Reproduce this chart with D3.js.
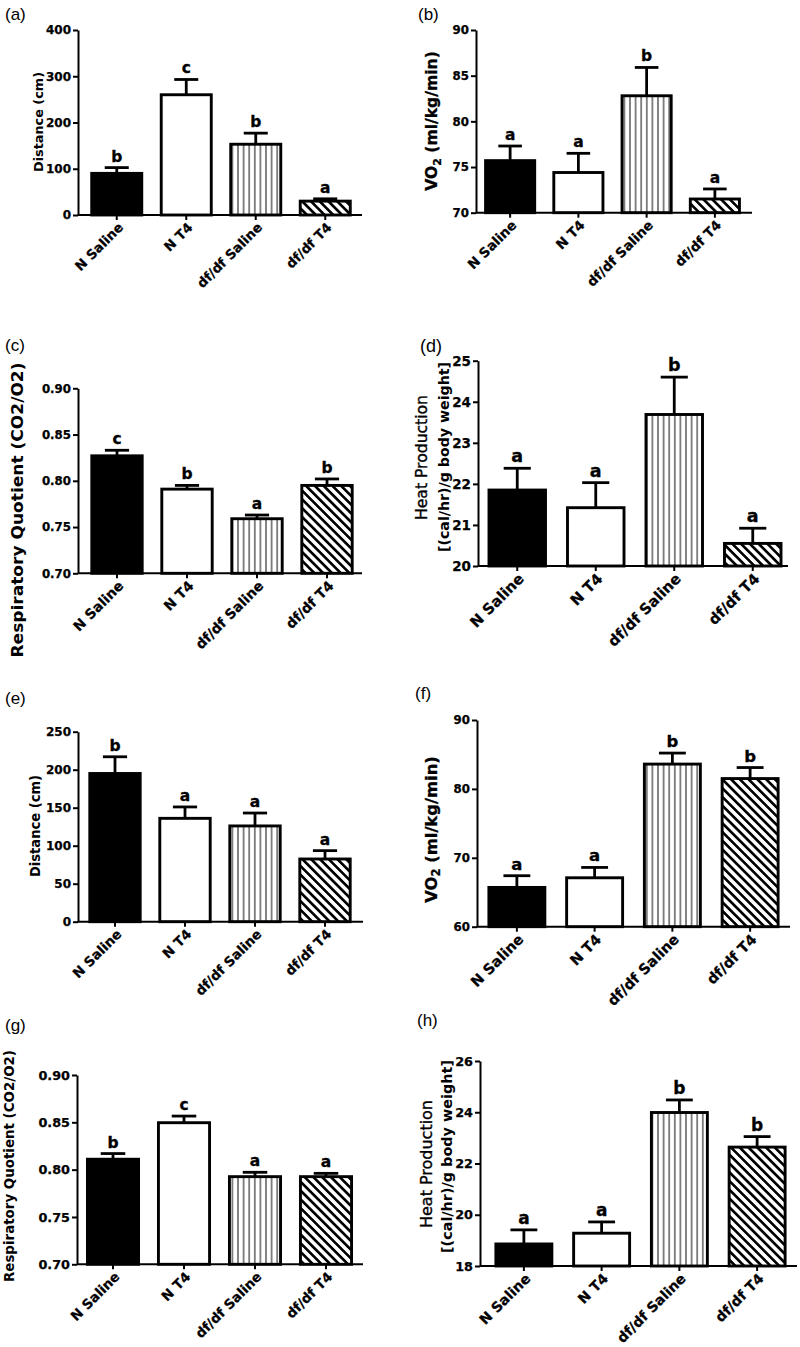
<!DOCTYPE html>
<html><head><meta charset="utf-8">
<script src="https://cdn.jsdelivr.net/npm/d3@7"></script>
<style>body{margin:0;background:#fff}svg{display:block}</style>
</head><body>
<script>
// ---------- data ----------
const categories = ["N Saline", "N T4", "df/df Saline", "df/df T4"];

const aMeans = [90, 260, 153, 30],          aErrs = [12.5, 33, 24, 5],          aLetters = ["b","c","b","a"], aTicks = [0,100,200,300,400];
const bMeans = [75.7, 74.4, 82.8, 71.5],    bErrs = [1.6, 2.1, 3.1, 1.1],       bLetters = ["a","a","b","a"], bTicks = [70,75,80,85,90];
const cMeans = [0.827, 0.791, 0.759, 0.795],cErrs = [0.006, 0.004, 0.004, 0.007],cLetters = ["c","b","a","b"], cTicks = [0.70,0.75,0.80,0.85,0.90];
const dMeans = [21.85, 21.42, 23.69, 20.55],dErrs = [0.53, 0.61, 0.91, 0.37],   dLetters = ["a","a","b","a"], dTicks = [20,21,22,23,24,25];
const eMeans = [195, 136, 126, 82.5],       eErrs = [22, 15, 17, 11],           eLetters = ["b","a","a","a"], eTicks = [0,50,100,150,200,250];
const fMeans = [65.7, 67.1, 83.6, 81.5],    fErrs = [1.7, 1.5, 1.6, 1.6],       fLetters = ["a","a","b","b"], fTicks = [60,70,80,90];
const gMeans = [0.811, 0.8496, 0.7926, 0.7926], gErrs = [0.006, 0.007, 0.0046, 0.0035], gLetters = ["b","c","a","a"], gTicks = [0.70,0.75,0.80,0.85,0.90];
const hMeans = [18.86, 19.28, 23.99, 22.64],hErrs = [0.55, 0.44, 0.49, 0.41],   hLetters = ["a","a","b","b"], hTicks = [18,20,22,24,26];

const distLabel = "Distance (cm)";
const rqLabel = "Respiratory Quotient (CO2/O2)";
const heatLabel1 = "Heat Production";
const heatLabel2 = "[(cal/hr)/g body weight]";

// ---------- layout ----------
const panels = [
 {id:"(a)", means:aMeans, errs:aErrs, letters:aLetters, ticks:aTicks, fmt:d3.format("d"),
  ax:78, yTop:30, yBot:215, xr:[82,360], xEnd:362, lab:[5,20,17], tickFs:12, letFs:15.5, xFs:13.2,
  ylab:{type:"plain", text:distLabel, x:38, y:122, fs:13, len:100}},
 {id:"(b)", means:bMeans, errs:bErrs, letters:bLetters, ticks:bTicks, fmt:d3.format("d"),
  ax:476, yTop:30, yBot:212.7, xr:[476,749], xEnd:752, lab:[418,20,17], tickFs:11.8, letFs:15.5, xFs:13.4,
  ylab:{type:"vo2", x:432, y:121, fs:15.6}},
 {id:"(c)", means:cMeans, errs:cErrs, letters:cLetters, ticks:cTicks, fmt:d3.format(".2f"),
  ax:78, yTop:388.3, yBot:573.3, xr:[82,362], xEnd:362, lab:[5,351,17], tickFs:11.8, letFs:15.5, xFs:13.8,
  ylab:{type:"plain", text:rqLabel, x:17.5, y:510, fs:15.5, len:295}},
 {id:"(d)", means:dMeans, errs:dErrs, letters:dLetters, ticks:dTicks, fmt:d3.format("d"),
  ax:478, yTop:360.7, yBot:566, xr:[478,792], xEnd:788, lab:[420,352,18], tickFs:13.5, letFs:17.5, xFs:14.8,
  ylab:{type:"heat", x1:422, y1:457.5, len1:125, x2:444, y2:457, len2:190, fs1:15.5, fs2:14.4}},
 {id:"(e)", means:eMeans, errs:eErrs, letters:eLetters, ticks:eTicks, fmt:d3.format("d"),
  ax:78, yTop:731.7, yBot:921.7, xr:[80,360], xEnd:363, lab:[5,704,17], tickFs:12, letFs:15.5, xFs:13.4,
  ylab:{type:"plain", text:distLabel, x:35, y:826, fs:13.2, len:102}},
 {id:"(f)", means:fMeans, errs:fErrs, letters:fLetters, ticks:fTicks, fmt:d3.format("d"),
  ax:477, yTop:720, yBot:926.7, xr:[478,789], xEnd:790, lab:[415,699,17], tickFs:11.8, letFs:16.5, xFs:14.5,
  ylab:{type:"vo2", x:431, y:829.5, fs:16.4}},
 {id:"(g)", means:gMeans, errs:gErrs, letters:gLetters, ticks:gTicks, fmt:d3.format(".2f"),
  ax:77, yTop:1075, yBot:1264.3, xr:[77.5,361.5], xEnd:363, lab:[5,1031,17], tickFs:12.8, letFs:15.5, xFs:13.4,
  ylab:{type:"plain", text:rqLabel, x:9, y:1166, fs:13.4, len:232}},
 {id:"(h)", means:hMeans, errs:hErrs, letters:hLetters, ticks:hTicks, fmt:d3.format("d"),
  ax:480, yTop:1061, yBot:1266, xr:[485,796], xEnd:797, lab:[417,1026,17], tickFs:12.8, letFs:17, xFs:14,
  ylab:{type:"heat", x1:426, y1:1164, len1:128, x2:447, y2:1156.5, len2:193, fs1:15.9, fs2:14.6}}
];

const fillStyles = ["#000", "#fff", "url(#vstripe)", "url(#diag)"];
const BOLD = "'DejaVu Sans', sans-serif";

const svg = d3.select("body").append("svg").attr("width", 800).attr("height", 1347);
svg.append("rect").attr("width", 800).attr("height", 1347).attr("fill", "#fff");

const defs = svg.append("defs");
const vp = defs.append("pattern").attr("id","vstripe").attr("patternUnits","userSpaceOnUse")
  .attr("width",5.6).attr("height",10);
vp.append("rect").attr("width",5.6).attr("height",10).attr("fill","#fff");
vp.append("line").attr("x1",2.8).attr("x2",2.8).attr("y1",0).attr("y2",10).attr("stroke","#222").attr("stroke-width",1.1);
const dp = defs.append("pattern").attr("id","diag").attr("patternUnits","userSpaceOnUse")
  .attr("width",6.2).attr("height",6.2).attr("patternTransform","rotate(-45)");
dp.append("rect").attr("width",6.2).attr("height",6.2).attr("fill","#fff");
dp.append("line").attr("x1",3.1).attr("x2",3.1).attr("y1",-1).attr("y2",7.2).attr("stroke","#000").attr("stroke-width",2.7);

panels.forEach(p => {
  const g = svg.append("g");
  const y = d3.scaleLinear().domain([p.ticks[0], p.ticks[p.ticks.length-1]]).range([p.yBot, p.yTop]);
  const x = d3.scaleBand().domain(categories).range(p.xr).paddingInner(0.28).paddingOuter(0.14);
  const bw = x.bandwidth();

  g.append("text").attr("x", p.lab[0]).attr("y", p.lab[1])
    .attr("font-family","'Liberation Sans', Arial, sans-serif").attr("font-size", p.lab[2]).text(p.id);

  const rows = categories.map((c,i) => ({c, v:p.means[i], e:p.errs[i], l:p.letters[i], f:fillStyles[i]}));
  rows.forEach(r => {
    const cx = x(r.c) + bw/2;
    g.append("line").attr("x1",cx).attr("x2",cx).attr("y1",y(r.v)).attr("y2",y(r.v+r.e))
      .attr("stroke","#000").attr("stroke-width",2.8);
    g.append("line").attr("x1",cx-bw*0.24).attr("x2",cx+bw*0.24).attr("y1",y(r.v+r.e)).attr("y2",y(r.v+r.e))
      .attr("stroke","#000").attr("stroke-width",2.8);
    g.append("text").attr("x",cx).attr("y",y(r.v+r.e)-6).attr("text-anchor","middle")
      .attr("font-family",BOLD).attr("font-weight","bold").attr("font-size",p.letFs)
      .attr("stroke","#000").attr("stroke-width",0.3).text(r.l);
  });
  g.selectAll("rect.bar").data(rows).join("rect").attr("class","bar")
    .attr("x", d => x(d.c)).attr("width", bw)
    .attr("y", d => y(d.v)).attr("height", d => p.yBot - y(d.v))
    .attr("fill", d => d.f).attr("stroke","#000").attr("stroke-width",2.9);

  const ya = g.append("g").attr("transform",`translate(${p.ax},0)`)
    .call(d3.axisLeft(y).tickValues(p.ticks).tickFormat(p.fmt).tickSize(5).tickSizeOuter(0).tickPadding(2));
  ya.select(".domain").attr("stroke-width",2);
  ya.selectAll(".tick line").attr("stroke-width",2);
  ya.selectAll(".tick text").attr("font-family",BOLD).attr("font-weight","bold").attr("font-size",p.tickFs)
    .attr("fill","#000").attr("stroke","#000").attr("stroke-width",0.25);

  const xa = g.append("g").attr("transform",`translate(0,${p.yBot})`)
    .call(d3.axisBottom(x).tickSize(5).tickSizeOuter(0).tickFormat(""));
  xa.select(".domain").attr("d", `M${p.ax},0H${p.xEnd}`).attr("stroke-width",2);
  xa.selectAll(".tick line").attr("stroke-width",2);
  categories.forEach(c => {
    const cx = x(c) + bw/2;
    g.append("text").attr("transform",`translate(${cx+4},${p.yBot+10}) rotate(-45)`)
      .attr("text-anchor","end").attr("dy","0.35em")
      .attr("font-family",BOLD).attr("font-weight","bold").attr("font-size",p.xFs)
      .attr("stroke","#000").attr("stroke-width",0.25).text(c);
  });

  const L = p.ylab;
  if (L.type === "plain") {
    g.append("text").attr("transform",`translate(${L.x},${L.y}) rotate(-90)`)
      .attr("text-anchor","middle").attr("dy","0.35em")
      .attr("font-family",BOLD).attr("font-weight","bold").attr("font-size",L.fs)
      .attr("textLength",L.len).attr("lengthAdjust","spacingAndGlyphs").text(L.text);
  } else if (L.type === "vo2") {
    const t = g.append("text").attr("transform",`translate(${L.x},${L.y}) rotate(-90)`)
      .attr("text-anchor","middle").attr("dy","0.35em")
      .attr("font-family",BOLD).attr("font-weight","bold").attr("font-size",L.fs)
      .attr("stroke","#000").attr("stroke-width",0.3);
    t.append("tspan").text("VO");
    t.append("tspan").attr("font-size",L.fs*0.7).attr("dy","0.3em").text("2");
    t.append("tspan").attr("dy","-0.21em").text(" (ml/kg/min)");
  } else {
    g.append("text").attr("transform",`translate(${L.x1},${L.y1}) rotate(-90)`)
      .attr("text-anchor","middle").attr("dy","0.35em")
      .attr("font-family",BOLD).attr("font-size",L.fs1)
      .attr("stroke","#000").attr("stroke-width",0.35)
      .attr("textLength",L.len1).attr("lengthAdjust","spacingAndGlyphs").text(heatLabel1);
    g.append("text").attr("transform",`translate(${L.x2},${L.y2}) rotate(-90)`)
      .attr("text-anchor","middle").attr("dy","0.35em")
      .attr("font-family",BOLD).attr("font-weight","bold").attr("font-size",L.fs2)
      .attr("textLength",L.len2).attr("lengthAdjust","spacingAndGlyphs").text(heatLabel2);
  }
});
</script>
</body></html>
